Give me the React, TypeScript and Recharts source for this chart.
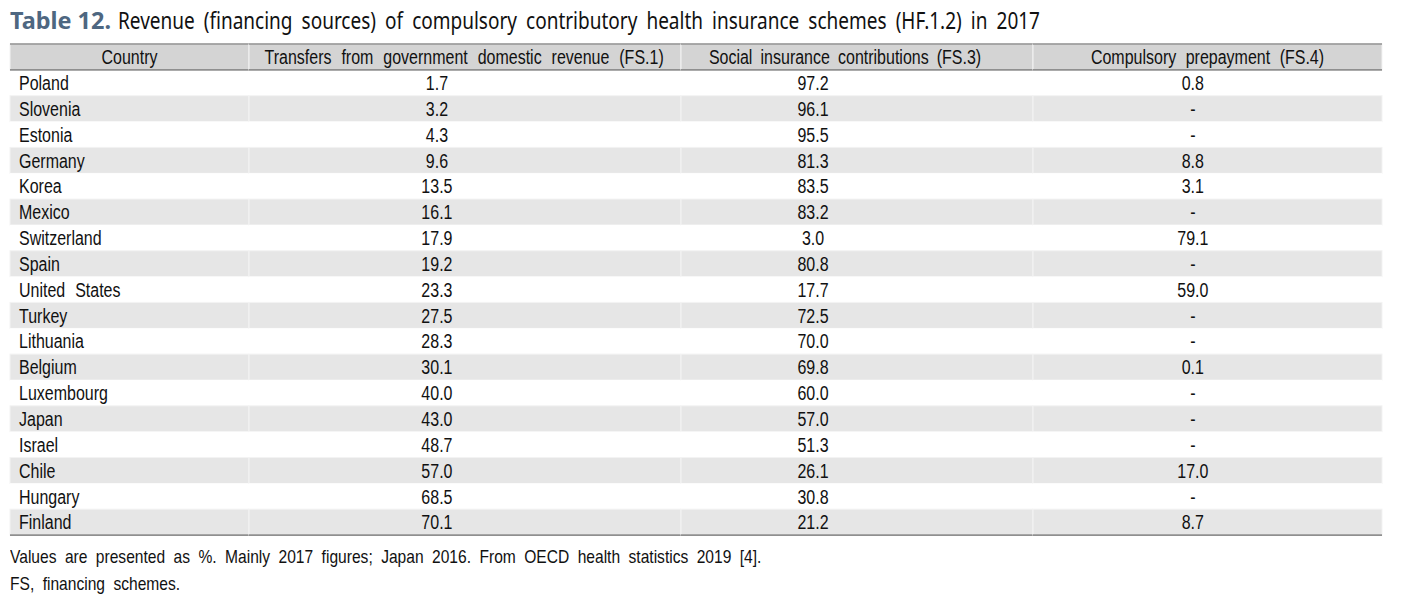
import React from 'react';
import { BarChart, Bar, XAxis, YAxis, LabelList } from 'recharts';

const countries = ['Poland', 'Slovenia', 'Estonia', 'Germany', 'Korea', 'Mexico', 'Switzerland', 'Spain', 'United States', 'Turkey', 'Lithuania', 'Belgium', 'Luxembourg', 'Japan', 'Israel', 'Chile', 'Hungary', 'Finland'];
const fs1 = [1.7, 3.2, 4.3, 9.6, 13.5, 16.1, 17.9, 19.2, 23.3, 27.5, 28.3, 30.1, 40.0, 43.0, 48.7, 57.0, 68.5, 70.1];
const fs3 = [97.2, 96.1, 95.5, 81.3, 83.5, 83.2, 3.0, 80.8, 17.7, 72.5, 70.0, 69.8, 60.0, 57.0, 51.3, 26.1, 30.8, 21.2];
const fs4: (number | null)[] = [0.8, null, null, 8.8, 3.1, null, 79.1, null, 59.0, null, null, 0.1, null, null, null, 17.0, null, 8.7];
const headers = ['Country', 'Transfers from government domestic revenue (FS.1)', 'Social insurance contributions (FS.3)', 'Compulsory prepayment (FS.4)'];

const titleLead = 'Table 12.';
const titleRest = 'Revenue (financing sources) of compulsory contributory health insurance schemes (HF.1.2) in 2017';
const notes = ['Values are presented as %. Mainly 2017 figures; Japan 2016. From OECD health statistics 2019 [4].', 'FS, financing schemes.'];

// layout constants
const W = 1402;
const H = 598;
const TABLE_LEFT = 10;
const TABLE_RIGHT = 1382;
const TABLE_TOP = 44;
const TABLE_BOTTOM = 535;
const COL_WIDTHS = [239, 432, 352, 349];
const HEADER_FRAC = [0.5, 0.498, 0.466, 0.5];
const HEADER_WS = [6.7, 6.7, 4.5, 6.2];
const VALUE_FRAC = [0, 0.435, 0.375, 0.458];
const FONT = "'Liberation Sans', Arial, sans-serif";
const FONT_SIZE = 19.5;
const SX = 0.82;
const WORD_SPACING = 6.7;

const fmt = (v: number | null) => (v == null ? '-' : v.toFixed(1));

const rows = [
  { kind: 'header', t0: headers[0], t1: headers[1], t2: headers[2], t3: headers[3] },
  ...countries.map((c, i) => ({
    kind: i % 2 === 1 ? 'shade' : 'plain',
    t0: c,
    t1: fmt(fs1[i]),
    t2: fmt(fs3[i]),
    t3: fmt(fs4[i]),
  })),
].map((r, i) => ({ ...r, id: String(i), w0: COL_WIDTHS[0], w1: COL_WIDTHS[1], w2: COL_WIDTHS[2], w3: COL_WIDTHS[3] }));

const BORDER = '#8f8f8f';

const makeShape = () => (props: any) => {
  const { x, y, width, height, payload, index } = props;
  const kind = payload?.kind ?? rows[index]?.kind;
  const isLast = index === rows.length - 1;
  const fill = kind === 'header' ? '#d4d4d4' : kind === 'shade' ? '#e6e6e6' : '#ffffff';
  return (
    <g>
      <rect x={x} y={y} width={width} height={height} fill={fill} stroke={kind === 'plain' ? 'none' : '#f3f3f3'} strokeWidth={1} />
      {index === 0 && <line x1={x} x2={x + width} y1={y} y2={y} stroke={BORDER} strokeWidth={1.6} />}
      {index === 1 && <line x1={x} x2={x + width} y1={y} y2={y} stroke={BORDER} strokeWidth={1.6} />}
      {isLast && <line x1={x} x2={x + width} y1={y + height} y2={y + height} stroke={BORDER} strokeWidth={1.6} />}
    </g>
  );
};

const makeLabel = (col: number) => (props: any) => {
  const vb = props.viewBox && props.viewBox.width != null ? props.viewBox : props;
  const { x, y, width, height } = vb;
  const index = props.index;
  const value = props.value;
  const isHeader = index === 0;
  let tx: number;
  let anchor: 'start' | 'middle';
  if (isHeader) {
    tx = x + width * HEADER_FRAC[col];
    anchor = 'middle';
  } else if (col === 0) {
    tx = x + 9;
    anchor = 'start';
  } else {
    tx = x + width * VALUE_FRAC[col];
    anchor = 'middle';
  }
  const ty = y + height / 2 + FONT_SIZE * 0.37;
  return (
    <text
      transform={`translate(${tx},${ty}) scale(${SX},1)`}
      x={0}
      y={0}
      textAnchor={anchor}
      fontSize={FONT_SIZE}
      fontFamily={FONT}
      fill="#111"
      style={{ wordSpacing: isHeader ? HEADER_WS[col] : WORD_SPACING }}
    >
      {value}
    </text>
  );
};

export default function App() {
  return (
    <div style={{ position: 'absolute', left: 0, top: 0, width: W, height: H, background: '#fff' }}>
      <svg width={W} height={40} style={{ position: 'absolute', left: 0, top: 0 }}>
        <text
          x={10}
          y={29}
          fontSize={23}
          fontWeight={700}
          fontFamily="'Noto Sans', 'Open Sans', sans-serif"
          fill="#4e6781"
          textLength={101}
          lengthAdjust="spacingAndGlyphs"
        >
          {titleLead}
        </text>
        <text
          x={118}
          y={29}
          fontSize={23}
          fontFamily="'Noto Sans', 'Open Sans', sans-serif"
          fill="#111"
          textLength={922}
          lengthAdjust="spacingAndGlyphs"
          style={{ wordSpacing: 5 }}
        >
          {titleRest}
        </text>
      </svg>
      <div style={{ position: 'absolute', left: 0, top: 0 }}>
        <BarChart
          width={W}
          height={H}
          data={rows}
          layout="vertical"
          barCategoryGap={0}
          margin={{ top: TABLE_TOP, bottom: H - TABLE_BOTTOM, left: TABLE_LEFT, right: W - TABLE_RIGHT }}
        >
          <XAxis type="number" domain={[0, COL_WIDTHS.reduce((a, b) => a + b, 0)]} hide />
          <YAxis type="category" dataKey="id" hide />
          {[0, 1, 2, 3].map((c) => (
            <Bar key={c} dataKey={`w${c}`} stackId="t" isAnimationActive={false} shape={makeShape()}>
              <LabelList dataKey={`t${c}`} content={makeLabel(c)} />
            </Bar>
          ))}
        </BarChart>
      </div>
      {notes.map((n, i) => (
        <div
          key={i}
          style={{
            position: 'absolute',
            left: 10,
            top: 544 + i * 27,
            fontFamily: FONT,
            fontSize: 19,
            lineHeight: '26px',
            whiteSpace: 'nowrap',
            color: '#111',
            wordSpacing: 5,
            transform: `scaleX(${SX})`,
            transformOrigin: '0 0',
          }}
        >
          {n}
        </div>
      ))}
    </div>
  );
}
